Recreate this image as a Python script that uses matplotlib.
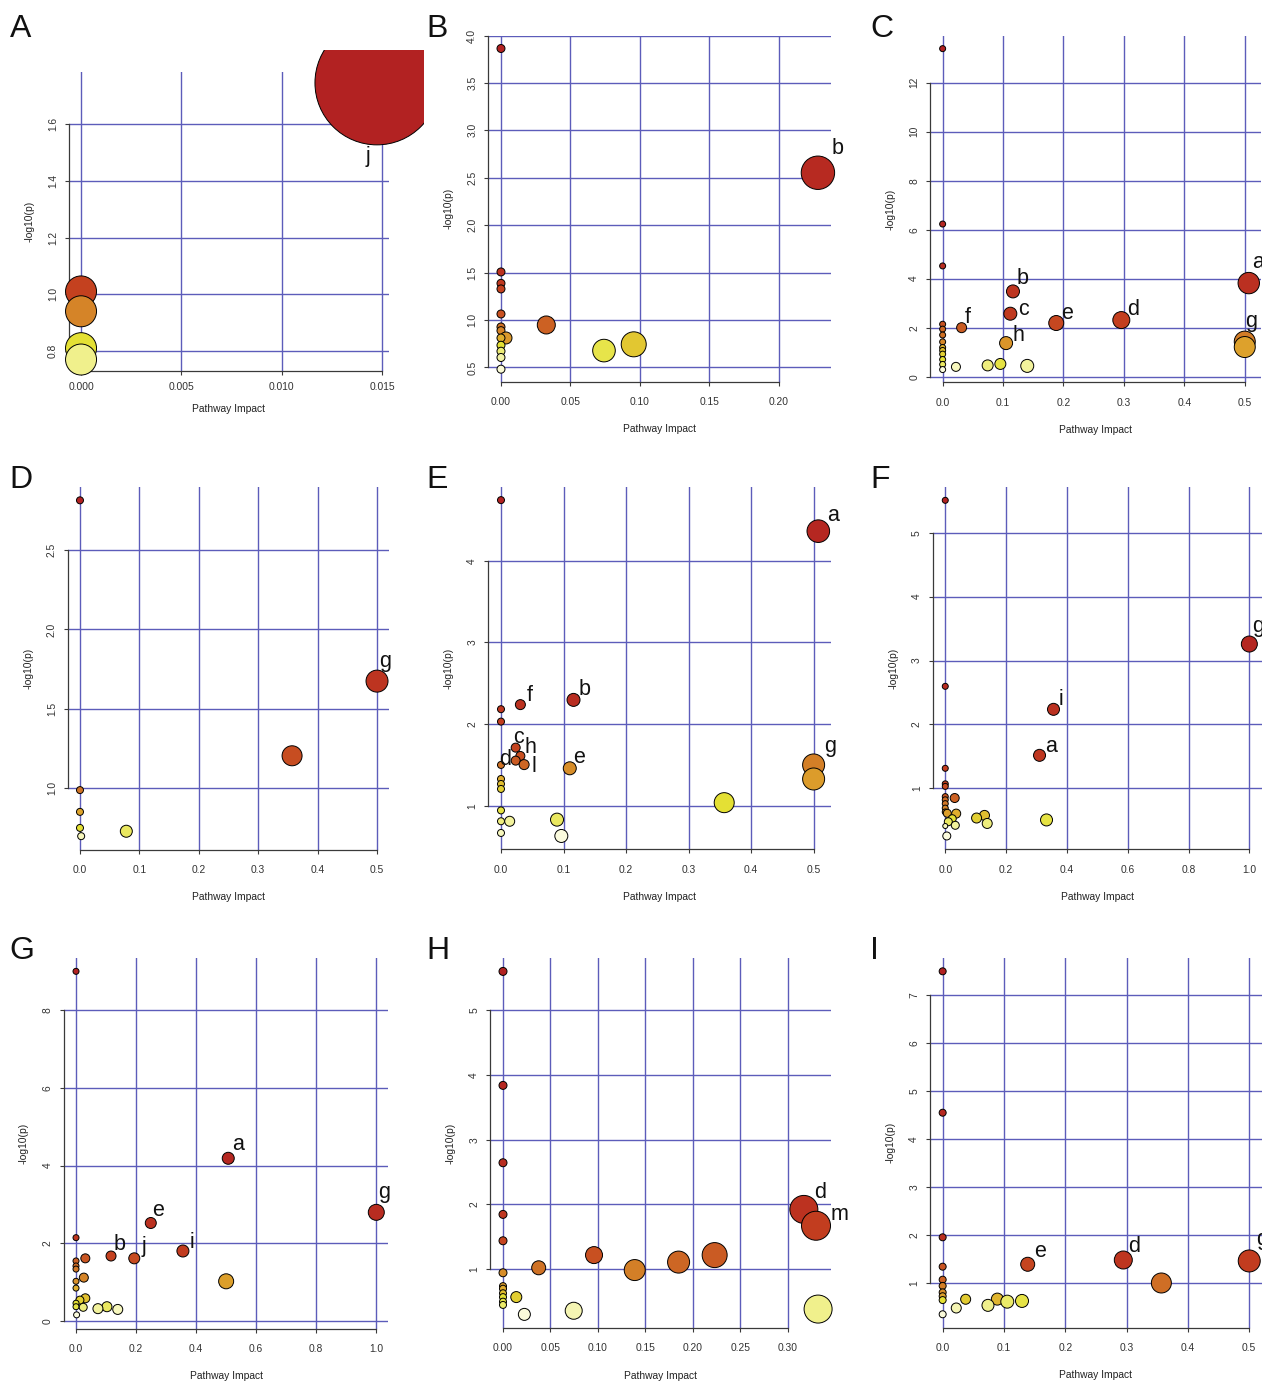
import numpy as np
import matplotlib
matplotlib.use("Agg")
import matplotlib.pyplot as plt
from matplotlib.colors import to_rgb
from matplotlib.patches import Rectangle

plt.rcParams['font.family'] = ['Liberation Sans', 'DejaVu Sans']

W, H = 1262, 1386

# ---- data (pathway impact, -log10(p), bubble radius) ----
a_x = [0, 0, 0, 0, 0.01475]
a_y = [1.01, 0.94, 0.81, 0.77, 1.745]
a_r = [15.5, 15.5, 15.5, 15.5, 62]
a_xticks = [0, 0.005, 0.010, 0.015]
a_xlabels = ["0.000", "0.005", "0.010", "0.015"]
a_yticks = [0.8, 1.0, 1.2, 1.4, 1.6]
a_ylabels = ["0.8", "1.0", "1.2", "1.4", "1.6"]
a_notes = [(4, "j", -9, 79)]

b_x = [0, 0.228, 0, 0, 0, 0, 0.0326, 0, 0, 0.0036, 0, 0, 0, 0, 0, 0.0741, 0.0955]
b_y = [3.863, 2.553, 1.507, 1.387, 1.328, 1.064, 0.948, 0.927, 0.888, 0.811, 0.811,
       0.734, 0.671, 0.605, 0.482, 0.678, 0.744]
b_r = [4, 16.7, 4, 4, 4, 4, 9, 4, 4, 6, 4, 4, 4, 4, 4, 11.3, 12.5]
b_xticks = [0, 0.05, 0.10, 0.15, 0.20]
b_xlabels = ["0.00", "0.05", "0.10", "0.15", "0.20"]
b_yticks = [0.5, 1.0, 1.5, 2.0, 2.5, 3.0, 3.5, 4.0]
b_ylabels = ["0.5", "1.0", "1.5", "2.0", "2.5", "3.0", "3.5", "4.0"]
b_notes = [(1, "b", 20, -19)]

c_x = [0, 0, 0, 0.5066, 0.1164, 0.112, 0.2957, 0.188, 0.0314, 0.105, 0.5, 0.5,
       0, 0, 0, 0, 0, 0, 0, 0, 0, 0, 0.022, 0.0745, 0.0955, 0.14]
c_y = [13.39, 6.23, 4.52, 3.82, 3.48, 2.57, 2.31, 2.19, 2.0, 1.37, 1.43, 1.21,
       2.14, 1.94, 1.70, 1.42, 1.19, 1.07, 0.92, 0.70, 0.50, 0.29, 0.40, 0.46, 0.52, 0.44]
c_r = [3, 3, 3, 10.7, 6.5, 6.5, 8.5, 7.5, 5, 6.5, 10.5, 10.5,
       3, 3, 3, 3, 3, 3, 3, 3, 3, 3, 4.5, 5.5, 5.5, 6.5]
c_xticks = [0, 0.1, 0.2, 0.3, 0.4, 0.5]
c_xlabels = ["0.0", "0.1", "0.2", "0.3", "0.4", "0.5"]
c_yticks = [0, 2, 4, 6, 8, 10, 12]
c_ylabels = ["0", "2", "4", "6", "8", "10", "12"]
c_notes = [(3, "a", 9, -15), (4, "b", 10, -7), (5, "c", 13.5, 1.3), (6, "d", 11.4, -5),
           (7, "e", 10.7, -3.7), (8, "f", 6.6, -5), (9, "h", 12, -2.3), (10, "g", 6, -14.7)]

d_x = [0, 0.5, 0.357, 0, 0, 0, 0.002, 0.078]
d_y = [2.813, 1.675, 1.205, 0.989, 0.852, 0.751, 0.699, 0.730]
d_r = [3.5, 11, 10, 3.5, 3.5, 3.5, 3.5, 6]
d_xticks = [0, 0.1, 0.2, 0.3, 0.4, 0.5]
d_xlabels = ["0.0", "0.1", "0.2", "0.3", "0.4", "0.5"]
d_yticks = [1.0, 1.5, 2.0, 2.5]
d_ylabels = ["1.0", "1.5", "2.0", "2.5"]
d_notes = [(1, "g", 8, -14)]

e_x = [0, 0.5075, 0.031, 0.116, 0, 0, 0.0235, 0.031, 0.0235, 0.037, 0, 0.110,
       0.5, 0.5, 0, 0, 0, 0, 0, 0, 0.0139, 0.0896, 0.0965, 0.357]
e_y = [4.744, 4.364, 2.239, 2.297, 2.183, 2.031, 1.712, 1.61, 1.553, 1.504, 1.50, 1.459,
       1.50, 1.328, 1.328, 1.267, 1.206, 0.943, 0.810, 0.667, 0.810, 0.830, 0.630, 1.038]
e_r = [3.5, 11.3, 5, 6.5, 3.5, 3.5, 4.5, 4.5, 4.5, 5, 3.5, 6.5,
       11, 11, 3.5, 3.5, 3.5, 3.5, 3.5, 3.5, 5, 6.5, 6.5, 10]
e_xticks = [0, 0.1, 0.2, 0.3, 0.4, 0.5]
e_xlabels = ["0.0", "0.1", "0.2", "0.3", "0.4", "0.5"]
e_yticks = [1, 2, 3, 4]
e_ylabels = ["1", "2", "3", "4"]
e_notes = [(1, "a", 15, -10.6), (2, "f", 9.4, -4), (3, "b", 11, -5), (6, "c", 3.3, -5),
           (7, "h", 10, -2.7), (9, "l", 9.7, 7), (10, "d", 4.5, 0.3), (11, "e", 9, -5),
           (12, "g", 16.3, -12.8)]

f_x = [0, 1.0, 0, 0.356, 0.31, 0, 0, 0, 0, 0, 0, 0, 0, 0.031, 0.0066, 0.036, 0.023,
       0.010, 0.033, 0, 0.005, 0.103, 0.129, 0.138, 0.333]
f_y = [5.507, 3.258, 2.596, 2.236, 1.516, 1.313, 1.07, 1.03, 0.87, 0.82, 0.76, 0.69, 0.63,
       0.848, 0.609, 0.604, 0.524, 0.477, 0.421, 0.41, 0.254, 0.535, 0.576, 0.45, 0.505]
f_r = [3, 8, 3, 6, 6, 3, 3, 3, 3, 3, 3, 3, 3, 4.5, 4, 4.5, 4, 4, 4, 2.5, 4, 5, 5, 5, 6]
f_xticks = [0, 0.2, 0.4, 0.6, 0.8, 1.0]
f_xlabels = ["0.0", "0.2", "0.4", "0.6", "0.8", "1.0"]
f_yticks = [1, 2, 3, 4, 5]
f_ylabels = ["1", "2", "3", "4", "5"]
f_notes = [(1, "g", 9, -12), (3, "i", 7.3, -4.3), (4, "a", 12, -3.6)]

g_x = [0, 0.507, 1.0, 0.249, 0, 0.356, 0.1166, 0.194, 0.031, 0, 0, 0, 0.026, 0, 0.5,
       0, 0.031, 0.013, 0, 0, 0.024, 0.073, 0.103, 0.139, 0.002]
g_y = [9.005, 4.186, 2.793, 2.518, 2.14, 1.796, 1.667, 1.607, 1.607, 1.54, 1.41, 1.33,
       1.11, 1.015, 1.015, 0.84, 0.577, 0.53, 0.45, 0.36, 0.345, 0.31, 0.36, 0.29, 0.15]
g_r = [3, 6, 8, 5.5, 3, 6, 5, 5.5, 4.5, 3, 3, 3, 4.5, 3, 7.5, 3, 4.5, 4, 3, 3, 4, 5, 5, 5, 3]
g_xticks = [0, 0.2, 0.4, 0.6, 0.8, 1.0]
g_xlabels = ["0.0", "0.2", "0.4", "0.6", "0.8", "1.0"]
g_yticks = [0, 2, 4, 6, 8]
g_ylabels = ["0", "2", "4", "6", "8"]
g_notes = [(1, "a", 10, -8.3), (2, "g", 8, -14), (3, "e", 7, -7), (5, "i", 9.3, -2.7),
           (6, "b", 8.7, -6), (7, "j", 9.7, -6)]

h_x = [0, 0, 0, 0, 0, 0, 0, 0, 0, 0, 0, 0, 0.317, 0.3298, 0.332, 0.0376, 0.0959,
       0.1388, 0.185, 0.223, 0.014, 0.0225, 0.0745]
h_y = [5.597, 3.838, 2.644, 1.847, 1.44, 0.946, 0.74, 0.70, 0.63, 0.57, 0.50, 0.45,
       1.924, 1.672, 0.386, 1.023, 1.219, 0.988, 1.111, 1.219, 0.571, 0.304, 0.36]
h_r = [4, 4, 4, 4, 4, 4, 3.5, 3.5, 3.5, 3.5, 3.5, 3.5, 14, 14.5, 14, 7, 8.5, 10.5,
       11, 12.5, 5.5, 6, 8.5]
h_xticks = [0, 0.05, 0.10, 0.15, 0.20, 0.25, 0.30]
h_xlabels = ["0.00", "0.05", "0.10", "0.15", "0.20", "0.25", "0.30"]
h_yticks = [1, 2, 3, 4, 5]
h_ylabels = ["1", "2", "3", "4", "5"]
h_notes = [(12, "d", 16, -11), (13, "m", 23.5, -5.7)]

i_x = [0, 0, 0, 0, 0, 0, 0, 0, 0, 0, 0.1387, 0.2946, 0.5, 0.3567, 0.0222, 0.0375,
       0.0739, 0.0892, 0.1054, 0.1294]
i_y = [7.5, 4.554, 1.958, 1.346, 1.075, 0.945, 0.81, 0.73, 0.65, 0.354, 1.396, 1.485,
       1.465, 1.006, 0.485, 0.667, 0.54, 0.67, 0.617, 0.632]
i_r = [3.5, 3.5, 3.5, 3.5, 3.5, 3.5, 3.5, 3.5, 3.5, 3.5, 7, 9, 11, 10, 5, 5, 6, 6, 6.5, 6.5]
i_xticks = [0, 0.1, 0.2, 0.3, 0.4, 0.5]
i_xlabels = ["0.0", "0.1", "0.2", "0.3", "0.4", "0.5"]
i_yticks = [1, 2, 3, 4, 5, 6, 7]
i_ylabels = ["1", "2", "3", "4", "5", "6", "7"]
i_notes = [(10, "e", 12.6, -7), (11, "d", 11.2, -8.3), (12, "g", 13, -15.5)]

# heat palette (red -> yellow, then yellow -> white), like R heat.colors
HUE = [(0.0, "#b22222"), (0.33, "#c4401f"), (0.6, "#d07426"), (0.8, "#dea42c"), (1.0, "#e4e034")]
SAT = [(0.0, "#fdfdee"), (0.5, "#f0f08c"), (1.0, "#e4e034")]


def ramp(anchors, t):
    for (t0, c0), (t1, c1) in zip(anchors[:-1], anchors[1:]):
        if t <= t1:
            f = (t - t0) / (t1 - t0)
            a, b = np.array(to_rgb(c0)), np.array(to_rgb(c1))
            return tuple(a + (b - a) * f)
    return to_rgb(anchors[-1][1])


def heat_colors(n):
    j = n // 4
    i = n - j
    cols = [ramp(HUE, k / (i - 1) if i > 1 else 0) for k in range(i)]
    if j > 0:
        for s in np.linspace(1 - 1 / (2 * j), 1 / (2 * j), j):
            cols.append(ramp(SAT, s))
    return cols


GRID = "#5c5cba"
AX = "#3a3a3a"

fig = plt.figure(figsize=(W / 100, H / 100), dpi=100)

# (letter, data..., plot region in px: left, top, right, bottom)
panels = [
    ("A", a_x, a_y, a_r, a_xticks, a_xlabels, a_yticks, a_ylabels, a_notes, (69.2, 71.8, 388.8, 370.6)),
    ("B", b_x, b_y, b_r, b_xticks, b_xlabels, b_yticks, b_ylabels, b_notes, (488.3, 35.5, 830.6, 382)),
    ("C", c_x, c_y, c_r, c_xticks, c_xlabels, c_yticks, c_ylabels, c_notes, (930.4, 35.8, 1261, 382.4)),
    ("D", d_x, d_y, d_r, d_xticks, d_xlabels, d_yticks, d_ylabels, d_notes, (68.1, 486.9, 388.9, 849.6)),
    ("E", e_x, e_y, e_r, e_xticks, e_xlabels, e_yticks, e_ylabels, e_notes, (488.3, 486.7, 831, 849.4)),
    ("F", f_x, f_y, f_r, f_xticks, f_xlabels, f_yticks, f_ylabels, f_notes, (933.1, 486.9, 1261.5, 849.4)),
    ("G", g_x, g_y, g_r, g_xticks, g_xlabels, g_yticks, g_ylabels, g_notes, (64, 957.6, 388.3, 1328.6)),
    ("H", h_x, h_y, h_r, h_xticks, h_xlabels, h_yticks, h_ylabels, h_notes, (490.4, 957.7, 830.7, 1328.1)),
    ("I", i_x, i_y, i_r, i_xticks, i_xlabels, i_yticks, i_ylabels, i_notes, (930.4, 957.6, 1261.5, 1328.0)),
]

letter_x = [9.5, 426.5, 870]
letter_base = [37, 488, 959]

for n, (tag, x, y, r, xt, xtl, yt, ytl, notes, (l, t, rr, b)) in enumerate(panels):
    ax = fig.add_axes([l / W, 1 - b / H, (rr - l) / W, (b - t) / H])
    x, y, r = np.asarray(x, float), np.asarray(y, float), np.asarray(r, float)

    xr, yr = x.max() - x.min(), y.max() - y.min()
    ax.set_xlim(x.min() - 0.04 * xr, x.max() + 0.04 * xr)
    ax.set_ylim(y.min() - 0.04 * yr, y.max() + 0.04 * yr)
    ax.set_xticks(xt, xtl)
    ax.set_yticks(yt, ytl)
    ax.grid(True, color=GRID, lw=1.0)
    ax.set_axisbelow(True)

    for s in ["top", "right"]:
        ax.spines[s].set_visible(False)
    ax.spines["left"].set_bounds(yt[0], yt[-1])
    ax.spines["bottom"].set_bounds(xt[0], xt[-1])
    for s in ["left", "bottom"]:
        ax.spines[s].set_color(AX)
        ax.spines[s].set_linewidth(0.9)

    small = tag == "A"
    ax.tick_params(axis="both", length=3, width=0.8, color=AX, labelsize=7.4, labelcolor="#333333")
    ax.tick_params(axis="x", pad=5.5 if small else 8)
    ax.tick_params(axis="y", pad=5)
    for lab in ax.get_yticklabels():
        lab.set_rotation(90)
        lab.set_va("center")

    # bubbles drawn from most to least significant, coloured by rank
    order = np.argsort(-y, kind="stable")
    cols = heat_colors(len(y))
    sc = ax.scatter(x[order], y[order], s=(1.44 * r[order]) ** 2, c=cols,
                    edgecolors="black", linewidths=0.7, zorder=3, clip_on=False)
    if tag == "A":
        sc.set_clip_on(True)
        sc.set_clip_path(Rectangle((0, 0), 424 / W, (H - 50) / H, transform=fig.transFigure))

    for idx, txt, dx, dy in notes:
        ax.annotate(txt, xy=(x[idx], y[idx]), xytext=(dx, -dy), textcoords="offset pixels",
                    ha="center", va="baseline", fontsize=15.5, color="#111111",
                    annotation_clip=False, zorder=4)

    ax.annotate("Pathway Impact", xy=(0.5, 0), xycoords="axes fraction",
                xytext=(0, -38.5 if small else -47.5), textcoords="offset pixels",
                ha="center", va="center", fontsize=7.4, color="#222222")
    ax.annotate("-log10(p)", xy=(0, 0.5), xycoords="axes fraction",
                xytext=(-40, 0), textcoords="offset pixels", rotation=90,
                ha="center", va="center", fontsize=7.4, color="#222222")

    fig.text(letter_x[n % 3] / W, 1 - letter_base[n // 3] / H, tag,
             fontsize=23, ha="left", va="baseline", color="#111111")

fig.savefig("out.png", dpi=100)
